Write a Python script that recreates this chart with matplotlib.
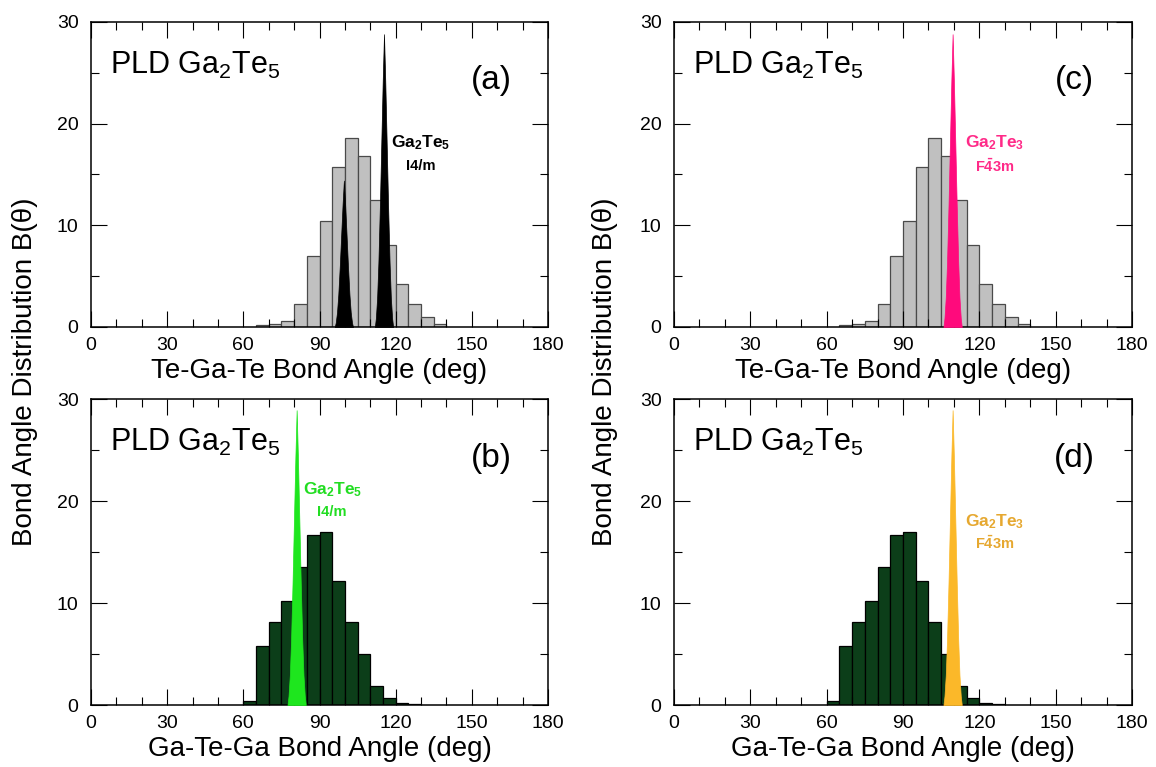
import matplotlib
matplotlib.use("Agg")
import matplotlib.pyplot as plt
from matplotlib.ticker import MultipleLocator

plt.rcParams["font.family"] = ["Liberation Sans", "DejaVu Sans"]
plt.rcParams["mathtext.fontset"] = "custom"
plt.rcParams["mathtext.rm"] = "Liberation Sans"
plt.rcParams["mathtext.it"] = "Liberation Sans:italic"
plt.rcParams["mathtext.bf"] = "Liberation Sans:bold"

# histogram bins are 5 deg wide, listed by left edge
te_ga_te_edges = [65, 70, 75, 80, 85, 90, 95, 100, 105, 110, 115, 120, 125, 130, 135]
te_ga_te_counts = [0.15, 0.25, 0.6, 2.3, 7.0, 10.4, 15.7, 18.6, 16.8, 12.5, 8.1, 4.25, 2.25, 1.0, 0.3]

ga_te_ga_edges = [60, 65, 70, 75, 80, 85, 90, 95, 100, 105, 110, 115, 120, 125]
ga_te_ga_counts = [0.4, 5.8, 8.1, 10.2, 13.5, 16.7, 17.0, 12.2, 8.1, 5.0, 1.9, 0.7, 0.15, 0.05]

# crystal reference peaks: (centre deg, height)
peaks_a = [(99.6, 14.4), (115.4, 28.8)]
peaks_b = [(81.0, 28.9)]
peaks_c = [(109.5, 28.8)]
peaks_d = [(109.5, 28.9)]

# peak outline: offset from centre (deg) vs fraction of height
peak_offsets = [-3.6, -3.2, -2.7, -2.2, -1.6, -1.0, -0.5, 0.0,
                0.5, 1.0, 1.6, 2.2, 2.7, 3.2, 3.6]
peak_fracs = [0.0, 0.03, 0.1, 0.22, 0.42, 0.65, 0.84, 1.0,
              0.84, 0.65, 0.42, 0.22, 0.1, 0.03, 0.0]

GRAY = "#c0c0c0"
DKGREEN = "#0c3e19"


def style_axes(ax, xlabel):
    ax.set_xlim(0, 180)
    ax.set_ylim(0, 30)
    ax.xaxis.set_major_locator(MultipleLocator(30))
    ax.xaxis.set_minor_locator(MultipleLocator(10))
    ax.yaxis.set_major_locator(MultipleLocator(10))
    ax.yaxis.set_minor_locator(MultipleLocator(5))
    ax.tick_params(which="both", direction="in", top=True, right=True, width=0.8,
                   labelsize=14)
    ax.tick_params(which="major", length=11.5)
    ax.tick_params(which="minor", length=5.8)
    ax.tick_params(axis="x", pad=7)
    ax.tick_params(axis="y", pad=9)
    for sp in ax.spines.values():
        sp.set_linewidth(1.1)
    ax.set_xlabel(xlabel, fontsize=20, labelpad=3)
    ax.text(7.5, 24.9, "PLD Ga$_2$Te$_5$", fontsize=22, va="baseline")


def draw_peaks(ax, peaks, color):
    for centre, height in peaks:
        xs = [centre + o for o in peak_offsets]
        ys = [height * f for f in peak_fracs]
        ax.fill_between(xs, ys, 0, color=color, edgecolor=color, linewidth=0.5, zorder=3)


fig = plt.figure(figsize=(11.56, 7.67), dpi=100)
W, H = 1156, 767


def add_ax(x0, y0, x1, y1):
    return fig.add_axes([x0 / W, 1 - y1 / H, (x1 - x0) / W, (y1 - y0) / H])


ax_a = add_ax(91, 22, 548, 327)
ax_b = add_ax(91, 399, 548, 705)
ax_c = add_ax(674, 22, 1132, 327)
ax_d = add_ax(674, 399, 1132, 705)

# (a)
ax_a.bar(te_ga_te_edges, te_ga_te_counts, width=5, align="edge", color=GRAY,
         edgecolor="#4a4a4a", linewidth=0.9)
draw_peaks(ax_a, peaks_a, "black")
ax_a.text(130, 18.1, r"$\mathbf{Ga_2Te_5}$", fontsize=12.5, ha="center", va="center")
ax_a.text(130, 15.8, "I4/m", fontsize=10.5, fontweight="bold", ha="center", va="center")
ax_a.text(157.5, 24.2, "(a)", fontsize=24, ha="center", va="center")
style_axes(ax_a, "Te-Ga-Te Bond Angle (deg)")

# (b)
ax_b.bar(ga_te_ga_edges, ga_te_ga_counts, width=5, align="edge", color=DKGREEN,
         edgecolor="black", linewidth=0.9)
draw_peaks(ax_b, peaks_b, "#1ee61e")
ax_b.text(95, 21.1, r"$\mathbf{Ga_2Te_5}$", fontsize=12.5, color="#22dd22",
          ha="center", va="center")
ax_b.text(95, 18.9, "I4/m", fontsize=10.5, fontweight="bold", color="#22dd22",
          ha="center", va="center")
ax_b.text(157.5, 24.2, "(b)", fontsize=24, ha="center", va="center")
style_axes(ax_b, "Ga-Te-Ga Bond Angle (deg)")

# (c)
ax_c.bar(te_ga_te_edges, te_ga_te_counts, width=5, align="edge", color=GRAY,
         edgecolor="#4a4a4a", linewidth=0.9)
draw_peaks(ax_c, peaks_c, "#ff0a7c")
ax_c.text(126, 18.1, r"$\mathbf{Ga_2Te_3}$", fontsize=12.5, color="#ff2a88",
          ha="center", va="center")
ax_c.text(126, 15.8, r"$\mathbf{F\bar{4}3m}$", fontsize=10.5, color="#ff2a88",
          ha="center", va="center")
ax_c.text(157.5, 24.2, "(c)", fontsize=24, ha="center", va="center")
style_axes(ax_c, "Te-Ga-Te Bond Angle (deg)")

# (d)
ax_d.bar(ga_te_ga_edges, ga_te_ga_counts, width=5, align="edge", color=DKGREEN,
         edgecolor="black", linewidth=0.9)
draw_peaks(ax_d, peaks_d, "#fbb829")
ax_d.text(126, 18.0, r"$\mathbf{Ga_2Te_3}$", fontsize=12.5, color="#e6a830",
          ha="center", va="center")
ax_d.text(126, 15.8, r"$\mathbf{F\bar{4}3m}$", fontsize=10.5, color="#e6a830",
          ha="center", va="center")
ax_d.text(157.5, 24.2, "(d)", fontsize=24, ha="center", va="center")
style_axes(ax_d, "Ga-Te-Ga Bond Angle (deg)")

fig.text(25 / W, 1 - 372 / H, "Bond Angle Distribution B(θ)", fontsize=20,
         rotation=90, ha="center", va="center")
fig.text(605 / W, 1 - 372 / H, "Bond Angle Distribution B(θ)", fontsize=20,
         rotation=90, ha="center", va="center")

fig.savefig("out.png", dpi=100)
